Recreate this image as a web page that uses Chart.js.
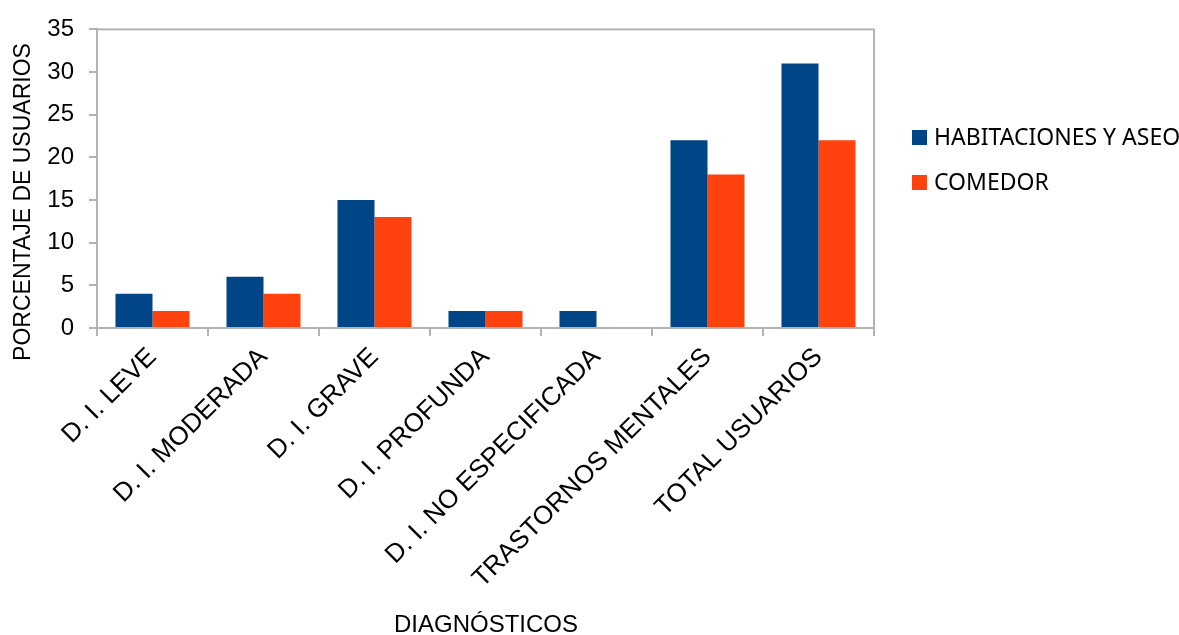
<!DOCTYPE html>
<html>
<head>
<meta charset="utf-8">
<script src="https://cdn.jsdelivr.net/npm/chart.js@4"></script>
<style>
    html, body { margin: 0; padding: 0; background: #ffffff; }
    #wrap { width: 1179px; height: 635px; }
</style>
</head>
<body>
<div id="wrap"><canvas id="chart1" width="1179" height="635"></canvas></div>
<script>

const categories = ['D. I. LEVE', 'D. I. MODERADA', 'D. I. GRAVE', 'D. I. PROFUNDA',
    'D. I. NO ESPECIFICADA', 'TRASTORNOS MENTALES', 'TOTAL USUARIOS'];
const habitaciones = [4, 6, 15, 2, 2, 22, 31];
const comedor = [2, 4, 13, 2, 0, 18, 22];
const seriesNames = ['HABITACIONES Y ASEO', 'COMEDOR'];
const yTicks = [0, 5, 10, 15, 20, 25, 30, 35];
const yTitle = 'PORCENTAJE DE USUARIOS';
const xTitle = 'DIAGNÓSTICOS';

const axisColor = '#b3b3b3';

// frame around the plot area
const frame = {
    id: 'frame',
    afterDatasetsDraw: function(chart) {
        const a = chart.chartArea;
        const ctx = chart.ctx;
        ctx.save();
        ctx.strokeStyle = axisColor;
        ctx.lineWidth = 2;
        ctx.strokeRect(a.left, a.top, a.right - a.left, a.bottom - a.top);
        ctx.restore();
    }
};

// legend and axis titles, placed like the original
const extras = {
    id: 'extras',
    afterDraw: function(chart) {
        const ctx = chart.ctx;
        ctx.save();
        ctx.font = '23px "Noto Sans"';
        ctx.textBaseline = 'middle';
        chart.data.datasets.forEach(function(ds, i) {
            const y = 138 + i * 45;
            ctx.fillStyle = ds.backgroundColor;
            ctx.fillRect(912, y - 8, 15, 15);
            ctx.fillStyle = '#000000';
            ctx.fillText(ds.label, 934, y);
        });

        ctx.font = '23px "Liberation Sans"';
        ctx.textAlign = 'center';
        ctx.translate(24, 202);
        ctx.rotate(-Math.PI / 2);
        ctx.fillText(yTitle, 0, 0);
        ctx.restore();

        ctx.save();
        ctx.font = '24px "Liberation Sans"';
        ctx.textAlign = 'center';
        ctx.textBaseline = 'middle';
        ctx.fillStyle = '#000000';
        ctx.fillText(xTitle, 486, 625);
        ctx.restore();
    }
};

const chart1 = new Chart(document.getElementById('chart1'), {
    type: 'bar',
    data: {
        labels: categories,
        datasets: [
            { label: seriesNames[0], data: habitaciones, backgroundColor: '#004586' },
            { label: seriesNames[1], data: comedor, backgroundColor: '#ff420e' }
        ]
    },
    options: {
        responsive: false,
        animation: false,
        layout: { padding: { top: 26, right: 305, left: 0, bottom: 0 } },
        datasets: { bar: { categoryPercentage: 0.667, barPercentage: 1.0 } },
        plugins: {
            legend: { display: false },
            tooltip: { enabled: false }
        },
        scales: {
            x: {
                grid: { display: true, drawOnChartArea: false, offset: true, color: axisColor, lineWidth: 2, tickLength: 8 },
                border: { color: axisColor, width: 2 },
                ticks: {
                    color: '#000000',
                    font: { family: '"Liberation Sans", Arial', size: 26 },
                    minRotation: 45,
                    maxRotation: 45,
                    autoSkip: false,
                    padding: 6
                },
                afterFit: function(scale) { scale.height = 307; }
            },
            y: {
                min: 0,
                max: 35,
                afterBuildTicks: function(scale) {
                    scale.ticks = yTicks.map(function(v) { return { value: v }; });
                },
                grid: { display: true, drawOnChartArea: false, color: axisColor, lineWidth: 2, tickLength: 8 },
                border: { color: axisColor, width: 2 },
                ticks: {
                    color: '#000000',
                    font: { family: '"Liberation Sans", Arial', size: 24 },
                    padding: 15
                },
                afterFit: function(scale) { scale.width = 97; }
            }
        }
    },
    plugins: [frame, extras]
});

</script>
</body>
</html>
